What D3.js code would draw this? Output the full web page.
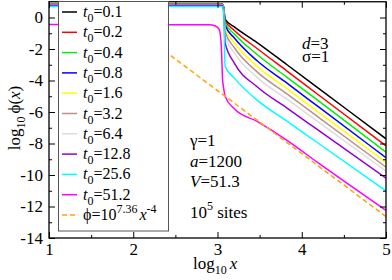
<!DOCTYPE html>
<html>
<head>
<meta charset="utf-8">
<script src="https://cdn.jsdelivr.net/npm/d3@7"></script>
<style>
  body { margin: 0; background: #fff; }
  svg text { font-family: "Liberation Serif", "DejaVu Serif", serif; }
</style>
</head>
<body>
<div id="chart"></div>
<script>
// shared log10 x grid for the simulated curves
var logX = [1, 2.9, 2.97, 3.02, 3.045, 3.06, 3.075, 3.09, 3.2, 3.47, 3.825, 4.2, 5];

var phi01  = [0.85, 0.85, 0.85, 0.85, 0.85, 0.84, 0.6, -0.1, -0.6, -1.59, -3.0, -4.5, -7.7];
var phi02  = [0.85, 0.85, 0.85, 0.85, 0.85, 0.84, 0.55, -0.2, -0.82, -1.97, -3.4, -4.92, -8.15];
var phi04  = [0.84, 0.84, 0.84, 0.84, 0.84, 0.83, 0.5, -0.35, -1.05, -2.35, -3.8, -5.3, -8.55];
var phi08  = [0.83, 0.83, 0.83, 0.83, 0.83, 0.82, 0.45, -0.5, -1.3, -2.75, -4.17, -5.68, -8.9];
var phi16  = [0.82, 0.82, 0.82, 0.82, 0.82, 0.81, 0.4, -0.7, -1.6, -3.1, -4.52, -6.02, -9.2];
var phi32  = [0.82, 0.82, 0.82, 0.82, 0.82, 0.81, 0.35, -0.9, -1.92, -3.45, -4.85, -6.34, -9.5];
var phi64  = [0.8, 0.8, 0.8, 0.8, 0.8, 0.79, 0.3, -1.15, -2.25, -3.8, -5.18, -6.64, -9.75];
var phi128 = [0.78, 0.78, 0.78, 0.78, 0.78, 0.77, 0.2, -1.6, -2.9, -4.4, -5.75, -7.17, -10.2];
var phi256 = [0.7, 0.7, 0.7, 0.7, 0.7, 0.69, 0.1, -3.1, -3.85, -5.25, -6.58, -8.0, -11.0];
var phi512 = [-0.45, -0.46, -0.52, -0.75, -1.8, -3.9, -4.55, -5.0, -5.8, -6.6, -7.8, -9.25, -12.25];

var t0Labels = ["0.1", "0.2", "0.4", "0.8", "1.6", "3.2", "6.4", "12.8", "25.6", "51.2"];
var colors = ["#000000", "#ff0000", "#00ee00", "#0000ff", "#ffff00", "#bc8f8f", "#dcdcdc", "#9400d3", "#00ffff", "#ff00ff"];
var seriesValues = [phi01, phi02, phi04, phi08, phi16, phi32, phi64, phi128, phi256, phi512];

// power-law guide: log10 phi = 7.36 - 4 log10 x
var fitLogX = [1, 5];
var fitLogPhi = [3.36, -12.64];

var xMajor = [1, 2, 3, 4, 5];
var xMinor = [1.5, 2.5, 3.5, 4.5];
var yMajor = [-14, -12, -10, -8, -6, -4, -2, 0];
var yMinor = [-13, -11, -9, -7, -5, -3, -1];

var width = 392, height = 280;
var pLeft = 49, pRight = 386, pTop = 1.75, pBottom = 238;
var serif = "'Liberation Serif', 'DejaVu Serif', serif";

var svg = d3.select("#chart").append("svg")
    .attr("width", width)
    .attr("height", height)
    .attr("font-family", serif);

var x = d3.scaleLinear().domain([1, 5]).range([pLeft, pRight]);
var y = d3.scaleLinear().domain([-14, 1]).range([pBottom, pTop]);

svg.append("clipPath").attr("id", "plotClip")
  .append("rect")
    .attr("x", pLeft).attr("y", pTop)
    .attr("width", pRight - pLeft).attr("height", pBottom - pTop);

var line = d3.line()
    .x(function (d) { return x(d[0]); })
    .y(function (d) { return y(d[1]); })
    .curve(d3.curveMonotoneX);

var plot = svg.append("g").attr("clip-path", "url(#plotClip)");

seriesValues.forEach(function (vals, i) {
    plot.append("path")
        .datum(logX.map(function (lx, j) { return [lx, vals[j]]; }))
        .attr("d", line)
        .attr("fill", "none")
        .attr("stroke", colors[i])
        .attr("stroke-width", 1.5);
});

plot.append("path")
    .datum(fitLogX.map(function (lx, j) { return [lx, fitLogPhi[j]]; }))
    .attr("d", d3.line().x(function (d) { return x(d[0]); }).y(function (d) { return y(d[1]); }))
    .attr("fill", "none")
    .attr("stroke", "#ffa500")
    .attr("stroke-width", 1.5)
    .attr("stroke-dasharray", "5,3");

// axes with inward ticks
function styleAxis(g) {
    g.attr("font-family", serif);
    g.select(".domain").remove();
    g.selectAll("line").attr("stroke", "#000");
    g.selectAll("text").attr("font-size", 17).attr("fill", "#000");
}

svg.append("g").attr("transform", "translate(0," + pBottom + ")")
    .call(d3.axisBottom(x).tickValues(xMajor).tickSize(-6).tickSizeOuter(0).tickPadding(5)
        .tickFormat(function (d) { return String(d); }))
    .call(styleAxis);
svg.append("g").attr("transform", "translate(0," + pBottom + ")")
    .call(d3.axisBottom(x).tickValues(xMinor).tickSize(-3).tickSizeOuter(0).tickFormat(""))
    .call(styleAxis);
svg.append("g").attr("transform", "translate(0," + pTop + ")")
    .call(d3.axisTop(x).tickValues(xMajor).tickSize(-6).tickSizeOuter(0).tickFormat(""))
    .call(styleAxis);
svg.append("g").attr("transform", "translate(0," + pTop + ")")
    .call(d3.axisTop(x).tickValues(xMinor).tickSize(-3).tickSizeOuter(0).tickFormat(""))
    .call(styleAxis);

svg.append("g").attr("transform", "translate(" + pLeft + ",0)")
    .call(d3.axisLeft(y).tickValues(yMajor).tickSize(-6).tickSizeOuter(0).tickPadding(6)
        .tickFormat(function (d) { return String(d); }))
    .call(styleAxis);
svg.append("g").attr("transform", "translate(" + pLeft + ",0)")
    .call(d3.axisLeft(y).tickValues(yMinor).tickSize(-3).tickSizeOuter(0).tickFormat(""))
    .call(styleAxis);
svg.append("g").attr("transform", "translate(" + pRight + ",0)")
    .call(d3.axisRight(y).tickValues(yMajor).tickSize(-6).tickSizeOuter(0).tickFormat(""))
    .call(styleAxis);
svg.append("g").attr("transform", "translate(" + pRight + ",0)")
    .call(d3.axisRight(y).tickValues(yMinor).tickSize(-3).tickSizeOuter(0).tickFormat(""))
    .call(styleAxis);

svg.append("rect")
    .attr("x", pLeft).attr("y", pTop)
    .attr("width", pRight - pLeft).attr("height", pBottom - pTop)
    .attr("fill", "none").attr("stroke", "#000").attr("stroke-width", 1.3);

// legend
var legend = svg.append("g");
legend.append("rect")
    .attr("x", 58.5).attr("y", 1.5)
    .attr("width", 110).attr("height", 229.5)
    .attr("fill", "#fff").attr("stroke", "#555").attr("stroke-width", 1);

var rowY = d3.scaleLinear().domain([0, 10]).range([12, 215]);

t0Labels.forEach(function (lab, i) {
    var yy = rowY(i);
    legend.append("line")
        .attr("x1", 62).attr("x2", 77).attr("y1", yy).attr("y2", yy)
        .attr("stroke", colors[i]).attr("stroke-width", 1.5);
    var t = legend.append("text").attr("x", 83).attr("y", yy + 5).attr("font-size", 16);
    t.append("tspan").attr("font-style", "italic").text("t");
    t.append("tspan").attr("font-size", 12).attr("dy", 5).text("0");
    t.append("tspan").attr("dy", -5).text("=" + lab);
});

var fy = rowY(10);
legend.append("line")
    .attr("x1", 62).attr("x2", 77).attr("y1", fy).attr("y2", fy)
    .attr("stroke", "#ffa500").attr("stroke-width", 1.5).attr("stroke-dasharray", "5,3");
var ft = legend.append("text").attr("x", 83).attr("y", fy + 5).attr("font-size", 16);
ft.append("tspan").text("ϕ=10");
ft.append("tspan").attr("font-size", 12).attr("dy", -7).text("7.36");
ft.append("tspan").attr("dy", 7).attr("dx", 2).attr("font-style", "italic").text("x");
ft.append("tspan").attr("font-size", 12).attr("dy", -7).text("-4");

// annotations
function note(xx, yy, parts) {
    var t = svg.append("text").attr("x", xx).attr("y", yy).attr("font-size", 17);
    parts.forEach(function (p) {
        var s = t.append("tspan").text(p.s);
        if (p.i) s.attr("font-style", "italic");
        if (p.fs) s.attr("font-size", p.fs);
        if (p.dy) s.attr("dy", p.dy);
    });
}
note(302, 49, [{ s: "d", i: true }, { s: "=3" }]);
note(302, 62, [{ s: "σ=1" }]);
note(190, 146, [{ s: "γ=1" }]);
note(190, 167, [{ s: "a", i: true }, { s: "=1200" }]);
note(190, 187, [{ s: "V", i: true }, { s: "=51.3" }]);
note(190, 218, [{ s: "10" }, { s: "5", fs: 12, dy: -8 }, { s: " sites", dy: 8 }]);

// axis titles
var xt = svg.append("text").attr("x", 193).attr("y", 269).attr("font-size", 17);
xt.append("tspan").text("log");
xt.append("tspan").attr("font-size", 12).attr("dy", 5).text("10");
xt.append("tspan").attr("dy", -5).attr("dx", 3).attr("font-style", "italic").text("x");

var yt = svg.append("text")
    .attr("transform", "translate(20,118) rotate(-90)")
    .attr("text-anchor", "middle")
    .attr("font-size", 17);
yt.append("tspan").text("log");
yt.append("tspan").attr("font-size", 12).attr("dy", 5).text("10");
yt.append("tspan").attr("dy", -5).attr("dx", 3).text("ϕ(");
yt.append("tspan").attr("font-style", "italic").text("x");
yt.append("tspan").text(")");
</script>
</body>
</html>
